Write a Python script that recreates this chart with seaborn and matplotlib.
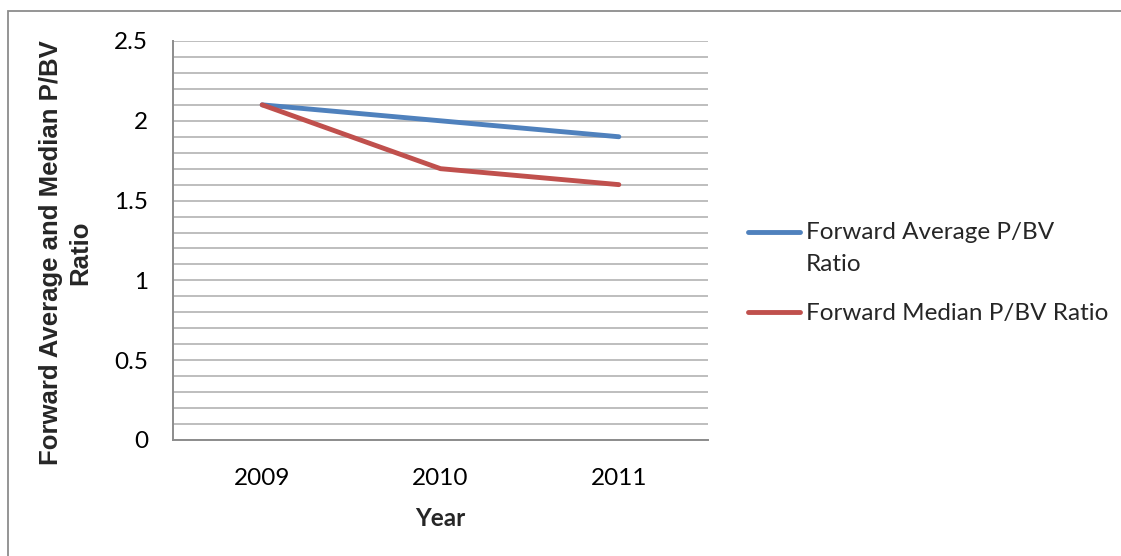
import matplotlib
matplotlib.use("Agg")
import matplotlib.pyplot as plt
import seaborn as sns
import pandas as pd
import numpy as np
from matplotlib.ticker import MultipleLocator, FixedLocator
from matplotlib.patches import Rectangle

years = ["2009", "2010", "2011"]
avg_ratio = [2.1, 2.0, 1.9]
median_ratio = [2.1, 1.7, 1.6]
series_names = ["Forward Average P/BV\nRatio", "Forward Median P/BV Ratio"]
y_ticks = [0, 0.5, 1, 1.5, 2, 2.5]
y_tick_labels = ["0", "0.5", "1", "1.5", "2", "2.5"]

df = pd.DataFrame({
    "Year": years * 2,
    "Value": avg_ratio + median_ratio,
    "Series": [series_names[0]] * 3 + [series_names[1]] * 3,
})

sns.set_theme(style="white")
plt.rcParams["font.family"] = ["Lato", "DejaVu Sans"]

FS = 17.5
fig = plt.figure(figsize=(11.21, 5.56), dpi=100)
W, H = 1121, 556
ax = fig.add_axes([173 / W, 1 - 440 / H, (708 - 173) / W, (440 - 41) / H])

sns.lineplot(data=df, x="Year", y="Value", hue="Series",
             palette=["#4F81BD", "#C0504D"], linewidth=3.5, ax=ax,
             sort=False, legend=True)
for ln in ax.get_lines():
    ln.set_solid_capstyle("round")

ax.set_xlim(-0.5, 2.5)
ax.set_ylim(0, 2.5)
ax.yaxis.set_major_locator(FixedLocator(y_ticks))
ax.set_yticklabels(y_tick_labels)
ax.yaxis.set_minor_locator(MultipleLocator(0.1))
ax.grid(True, which="both", axis="y", color="#BEBEBE", linewidth=1.4)
ax.grid(False, axis="x")
ax.set_axisbelow(True)
ax.tick_params(axis="both", which="both", length=0, labelsize=FS, colors="black")
ax.tick_params(axis="y", pad=18)
ax.tick_params(axis="x", pad=20)

for s in ["top", "right"]:
    ax.spines[s].set_visible(False)
ax.spines["left"].set_color("#8C8C8C")
ax.spines["left"].set_linewidth(1.4)
ax.spines["bottom"].set_color("#8C8C8C")
ax.spines["bottom"].set_linewidth(1.4)

ax.set_xlabel("Year", fontsize=FS, fontweight="bold")
ax.xaxis.set_label_coords(0.5, (440 - 507) / 399)
ax.set_ylabel("Forward Average and Median P/BV\nRatio", fontsize=18.5,
              fontweight="bold", family=["Liberation Sans", "DejaVu Sans"],
              linespacing=1.25)
ax.yaxis.set_label_coords((92 - 173) / 535, 0.47)

leg = ax.legend(loc="center left", bbox_to_anchor=(748 / W, 1 - 273 / H),
                bbox_transform=fig.transFigure, frameon=False, fontsize=FS,
                handlelength=2.14, handletextpad=0.25, labelspacing=1.15,
                borderaxespad=0, borderpad=0)
for t in leg.get_texts():
    t.set_linespacing(1.65)
for lh in leg.get_lines():
    lh.set_linewidth(3.5)
    lh.set_solid_capstyle("round")
# align the first handle with the first line of its wrapped label
first = leg.get_lines()[0]
first.set_ydata(np.asarray(first.get_ydata()) + 11.9)

fig.add_artist(Rectangle((8 / W, -0.2), 1.2, 1.2 - 11 / H,
                         transform=fig.transFigure, fill=False,
                         edgecolor="#8C8C8C", linewidth=1.3))

fig.savefig("out.png", dpi=100)
